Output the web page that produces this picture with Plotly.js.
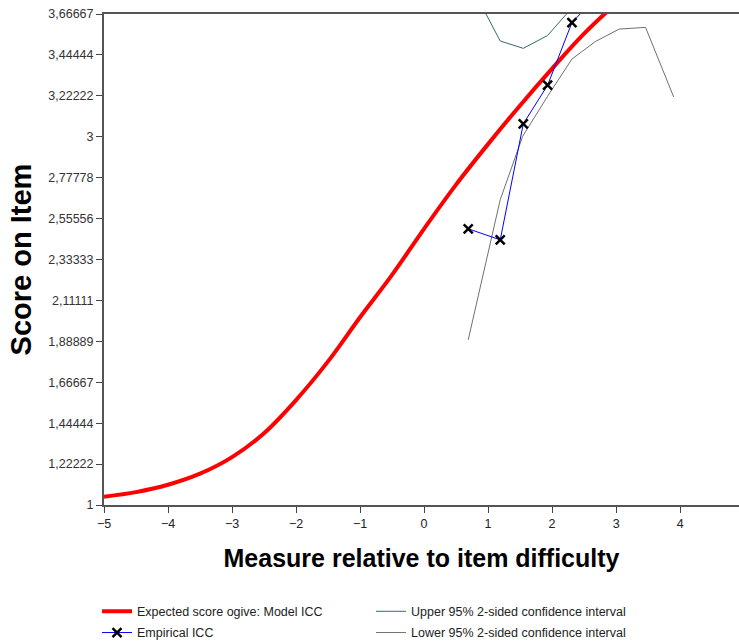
<!DOCTYPE html>
<html>
<head>
<meta charset="utf-8">
<script src="https://cdn.plot.ly/plotly-3.0.1.min.js"></script>
<style>html,body{margin:0;padding:0;background:#fff;}#chart{width:739px;height:644px;}</style>
</head>
<body>
<div id="chart"></div>
<script>
// Model ICC (expected score ogive)
const modelX = [-5, -4.5, -4, -3.5, -3, -2.5, -2, -1.5, -1, -0.5, 0, 0.5, 1, 1.5, 2, 2.5, 3, 3.5];
const modelY = [1.045, 1.07, 1.11, 1.17, 1.26, 1.39, 1.57, 1.78, 2.02, 2.25, 2.50, 2.74, 2.96, 3.17, 3.37, 3.56, 3.72, 3.83];

// Empirical ICC
const empX = [0.69, 1.19, 1.55, 1.93, 2.31, 2.75];
const empY = [2.50, 2.44, 3.07, 3.28, 3.62, 3.78];

// Upper 95% confidence interval
const upX = [0.69, 1.19, 1.55, 1.93, 2.31, 2.68];
const upY = [3.85, 3.52, 3.48, 3.55, 3.70, 3.90];

// Lower 95% confidence interval
const loX = [0.69, 1.19, 1.54, 1.93, 2.31, 2.68, 3.05, 3.46, 3.90];
const loY = [1.897, 2.658, 3.002, 3.22, 3.422, 3.518, 3.585, 3.594, 3.216];

const yTickVals = [1, 1.22222, 1.44444, 1.66667, 1.88889, 2.11111, 2.33333, 2.55556, 2.77778, 3, 3.22222, 3.44444, 3.66667];
const yTickText = ["1", "1,22222", "1,44444", "1,66667", "1,88889", "2,11111", "2,33333", "2,55556", "2,77778", "3", "3,22222", "3,44444", "3,66667"];
const xTickVals = [-5, -4, -3, -2, -1, 0, 1, 2, 3, 4];

const traces = [
  {x: loX, y: loY, type: 'scatter', mode: 'lines', name: 'Lower 95% 2-sided confidence interval',
   line: {color: '#707070', width: 1}, legend: 'legend4'},
  {x: upX, y: upY, type: 'scatter', mode: 'lines', name: 'Upper 95% 2-sided confidence interval',
   line: {color: '#336b6b', width: 1}, legend: 'legend3'},
  {x: modelX, y: modelY, type: 'scatter', mode: 'lines', name: 'Expected score ogive: Model ICC',
   line: {color: '#ff0000', width: 4, shape: 'spline'}, legend: 'legend'},
  {x: empX, y: empY, type: 'scatter', mode: 'lines+markers', name: 'Empirical ICC',
   line: {color: '#0000ff', width: 1},
   marker: {symbol: 'x-thin-open', size: 9, color: '#000', line: {color: '#000', width: 2.5}}, legend: 'legend2'}
];

const legFont = {size: 12.5, color: '#222', family: 'Liberation Sans, Arial, sans-serif'};
function leg(x, y) {
  return {x: x, xanchor: 'left', yref: 'container', y: y, yanchor: 'top',
          font: legFont, bgcolor: 'rgba(0,0,0,0)'};
}

const layout = {
  width: 739, height: 644,
  margin: {l: 104, r: 0, t: 14, b: 139},
  paper_bgcolor: '#fff', plot_bgcolor: '#fff',
  font: {family: 'Liberation Sans, Arial, sans-serif', size: 11, color: '#222'},
  showlegend: true,
  xaxis: {
    range: [-5, 4.92], tickvals: xTickVals, ticks: 'outside', ticklen: 6, tickcolor: '#444',
    showline: true, linecolor: '#555', linewidth: 2, mirror: true, showgrid: false, zeroline: false,
    automargin: false,
    tickfont: {size: 12.5, color: '#222'},
    title: {text: 'Measure relative to item difficulty', font: {size: 25, color: '#000', family: 'Liberation Sans, Arial, sans-serif', weight: 'bold'}, standoff: 19}
  },
  yaxis: {
    range: [1, 3.66667], tickvals: yTickVals, ticktext: yTickText, ticks: 'outside', ticklen: 6, tickcolor: '#444',
    showline: true, linecolor: '#555', linewidth: 2, showgrid: false, zeroline: false,
    automargin: false,
    tickfont: {size: 12.5, color: '#333'},
    title: {text: 'Score on Item', font: {size: 29, color: '#000', family: 'Liberation Sans, Arial, sans-serif', weight: 'bold'}, standoff: 8}
  },
  legend: leg(-0.011, 0.0735),
  legend2: leg(-0.011, 0.0405),
  legend3: leg(0.4205, 0.0735),
  legend4: leg(0.4205, 0.0405)
};

Plotly.newPlot('chart', traces, layout, {displayModeBar: false, staticPlot: true});
</script>
</body>
</html>
